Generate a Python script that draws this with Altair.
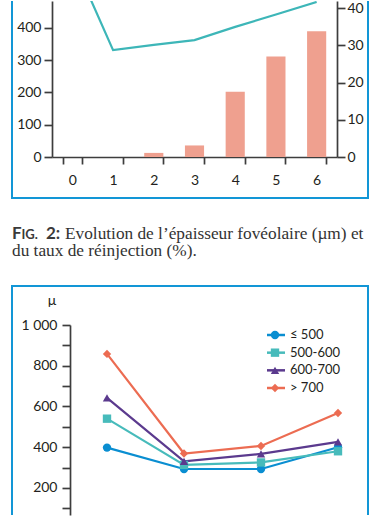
import altair as alt
import pandas as pd

# ---------------- data ----------------
# Fig. 2 (top): months, foveal thickness (µm, line, left axis), reinjection rate (%, bars, right axis)
months = [0, 1, 2, 3, 4, 5, 6]
thickness = [616, 331, 347, 362, 403, 441, 480]
reinjection = [0, 0, 1.1, 3.1, 17.5, 27.0, 33.8]

# Bottom chart: thickness (µ) by baseline group across four visits
visits = [1, 2, 3, 4]
series_names = ["≤ 500", "500-600", "600-700", "> 700"]
s_le500 = [398, 293, 293, 400]
s_500_600 = [540, 313, 325, 380]
s_600_700 = [642, 330, 367, 426]
s_gt700 = [858, 369, 406, 568]
series_values = [s_le500, s_500_600, s_600_700, s_gt700]

caption_tag = ["F", "IG.", "2:"]
caption_line1 = "Evolution de l’épaisseur fovéolaire (µm) et"
caption_line2 = "du taux de réinjection (%)."

# ---------------- styles ----------------
BLUE = "#1296d6"
AXC = "#3d3d3d"
TXT = "#231f20"
series_colors = ["#0a8ed1", "#47bbbb", "#5b3a8e", "#ec6c52"]
series_shapes = ["circle", "square", "triangle-up", "diamond"]

AX = dict(domainColor=AXC, domainWidth=1.7, tickColor=AXC, tickWidth=1.7,
          labelFont="Lato", labelFontSize=14, labelColor=TXT, grid=False, title=None)

one = pd.DataFrame({"k": [0]})


def box_rules(x0, x1, y0, y1, top=False, bottom=False):
    parts = [
        alt.Chart(one).mark_rule(color=BLUE, strokeWidth=2).encode(
            x=alt.value(x0), y=alt.value(y0), y2=alt.value(y1)),
        alt.Chart(one).mark_rule(color=BLUE, strokeWidth=2).encode(
            x=alt.value(x1), y=alt.value(y0), y2=alt.value(y1)),
    ]
    if bottom:
        parts.append(alt.Chart(one).mark_rule(color=BLUE, strokeWidth=2).encode(
            x=alt.value(x0 - 1), x2=alt.value(x1 + 1), y=alt.value(y1)))
    if top:
        parts.append(alt.Chart(one).mark_rule(color=BLUE, strokeWidth=2).encode(
            x=alt.value(x0 - 1), x2=alt.value(x1 + 1), y=alt.value(y0)))
    return parts


# ---------------- top chart ----------------
top_df = pd.DataFrame({"mois": months, "ep": thickness, "reinj": reinjection})

x_top = alt.X("mois:O", scale=alt.Scale(paddingInner=0.53, paddingOuter=0.265),
              axis=alt.Axis(labelAngle=0, tickBand="extent", tickSize=7,
                            labelPadding=9, **AX))

bars = alt.Chart(top_df).mark_bar(color="#efa08f").encode(
    x=x_top,
    y=alt.Y("reinj:Q", scale=alt.Scale(domain=[0, 41.9], nice=False),
            axis=alt.Axis(orient="right", values=[0, 10, 20, 30, 40],
                          tickSize=8, labelPadding=2, **AX)),
)
line_top = alt.Chart(top_df).mark_line(color="#3db6b8", strokeWidth=2.2, clip=True).encode(
    x=x_top,
    y=alt.Y("ep:Q", scale=alt.Scale(domain=[0, 483], nice=False),
            axis=alt.Axis(orient="left", values=[0, 100, 200, 300, 400],
                          tickSize=8, labelPadding=3, **AX)),
)
top = alt.layer(bars, line_top, *box_rules(-40, 316, 0, 197, bottom=True)).resolve_scale(
    y="independent").properties(width=285, height=156)

# ---------------- caption ----------------
cap_layers = [
    alt.Chart(one).mark_text(text=caption_tag[0], align="left", baseline="alphabetic",
                             font="Lato", fontWeight="bold", fontSize=17, color="#3a3a3a").encode(
        x=alt.value(-40), y=alt.value(38)),
    alt.Chart(one).mark_text(text=caption_tag[1], align="left", baseline="alphabetic",
                             font="Lato", fontWeight="bold", fontSize=13, color="#3a3a3a").encode(
        x=alt.value(-30.5), y=alt.value(38)),
    alt.Chart(one).mark_text(text=caption_tag[2], align="left", baseline="alphabetic",
                             font="Lato", fontWeight="bold", fontSize=17, color="#3a3a3a").encode(
        x=alt.value(-6), y=alt.value(38)),
    alt.Chart(one).mark_text(text=caption_line1, align="left", baseline="alphabetic",
                             font="Liberation Serif", fontSize=17.3, color="#333333").encode(
        x=alt.value(13), y=alt.value(38)),
    alt.Chart(one).mark_text(text=caption_line2, align="left", baseline="alphabetic",
                             font="Liberation Serif", fontSize=17.3, color="#333333").encode(
        x=alt.value(-40), y=alt.value(55)),
]
caption = alt.layer(*cap_layers).properties(width=285, height=82)

# ---------------- bottom chart ----------------
rows = []
for name, vals in zip(series_names, series_values):
    for v, val in zip(visits, vals):
        rows.append({"visite": v, "mu": val, "groupe": name})
bot_df = pd.DataFrame(rows)
leg_df = pd.DataFrame({"groupe": series_names})

color = alt.Color("groupe:N", scale=alt.Scale(domain=series_names, range=series_colors), legend=None)
shape = alt.Shape("groupe:N", scale=alt.Scale(domain=series_names, range=series_shapes), legend=None)

x_bot = alt.X("visite:Q", scale=alt.Scale(domain=[0.2857, 4.3117], nice=False, zero=False), axis=None)
y_bot = alt.Y("mu:Q", scale=alt.Scale(domain=[67, 1000], nice=False, zero=False),
              axis=alt.Axis(orient="left", offset=-18,
                            values=[100, 200, 300, 400, 500, 600, 700, 800, 900, 1000],
                            labelExpr="datum.value % 200 == 0 ? (datum.value == 1000 ? '1 000' : datum.label) : ''",
                            tickSize=8, labelPadding=5, **AX))

lines_b = alt.Chart(bot_df).mark_line(strokeWidth=2.2).encode(x=x_bot, y=y_bot, color=color, detail="groupe:N")
points_b = alt.Chart(bot_df).mark_point(filled=True, size=70, opacity=1).encode(
    x=x_bot, y=y_bot, color=color, shape=shape)
data_layer = alt.layer(lines_b, points_b)

y_leg = alt.Y("groupe:N", sort=series_names,
              scale=alt.Scale(type="point", domain=series_names, range=[10, 63], padding=0), axis=None)
leg_rule = alt.Chart(leg_df).mark_rule(strokeWidth=2.5).encode(
    x=alt.value(215), x2=alt.value(233), y=y_leg, color=color)
leg_pts = alt.Chart(leg_df).mark_point(filled=True, size=70, opacity=1).encode(
    x=alt.value(223), y=y_leg, color=color, shape=shape)
leg_txt = alt.Chart(leg_df).mark_text(align="left", baseline="middle", font="Lato",
                                      fontSize=13, color=TXT).encode(
    x=alt.value(238), y=y_leg, text="groupe:N")
legend_layer = alt.layer(leg_rule, leg_pts, leg_txt)

mu_label = alt.Chart(one).mark_text(text="µ", font="Lato", fontSize=14, color=TXT,
                                    align="center", baseline="middle").encode(
    x=alt.value(0), y=alt.value(-24))

bottom = alt.layer(data_layer, legend_layer, mu_label,
                   *box_rules(-40, 316, -39, 190, top=True)).resolve_scale(
    y="independent").properties(width=310, height=190)

chart = alt.vconcat(top, caption, bottom, spacing=0).properties(
    padding={"left": 9, "top": -1, "right": 0, "bottom": 0}
).configure(font="Lato").configure_view(stroke="transparent")

chart.save("out.html", embed_options={"renderer": "svg", "actions": False})
